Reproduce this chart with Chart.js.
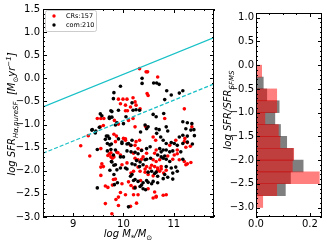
<!DOCTYPE html>
<html>
<head>
<meta charset="utf-8">
<script src="https://cdn.jsdelivr.net/npm/chart.js@4.4.1/dist/chart.umd.min.js"></script>
<style>
  html, body { margin: 0; padding: 0; background: #fff; }
  #wrap { position: relative; width: 327px; height: 243px; }
  canvas { position: absolute; top: 0; }
  #main { left: 0; }
  #hist { left: 218px; }
</style>
</head>
<body>
<div id="wrap">
  <canvas id="main" width="218" height="243"></canvas>
  <canvas id="hist" width="109" height="243"></canvas>
</div>
<script>
// scatter: [log M*, log SFR]
const crsPoints = [
  [10.32,0.21],[10.45,0.14],[10.48,0.14],[10.68,0.03],[10.47,-0.33],
  [9.90,-0.45],[9.99,-0.45],[10.07,-0.45],[10.19,-0.42],[9.94,-0.55],[10.04,-0.58],[10.14,-0.62],[10.04,-0.70],[10.08,-0.70],
  [9.48,-0.87],[9.55,-0.87],[9.61,-0.87],[9.82,-0.91],[9.90,-0.99],[10.10,-0.91],[10.19,-0.87],
  [9.30,-1.24],[9.54,-1.05],[9.60,-1.02],[9.81,-1.21],[9.86,-1.25],[9.84,-1.37],[10.00,-1.30],[10.04,-1.34],
  [9.15,-1.46],[9.55,-1.52],[9.75,-1.61],[9.89,-1.61],[9.94,-1.66],[9.33,-1.68],[10.20,-1.62],[9.69,-1.67],[9.75,-1.70],
  [9.57,-1.85],[9.55,-1.92],[9.60,-1.91],[9.55,-2.10],[9.64,-2.33],[9.69,-2.36],[9.78,-2.31],[9.64,-2.71],[9.77,-2.93],
  [9.78,-1.73],[9.97,-1.87],[10.07,-1.83],[10.15,-2.05],[10.20,-2.01],[9.80,-2.19],[9.84,-2.18],[9.97,-2.28],[10.15,-2.32],
  [10.20,-2.37],[9.94,-2.47],[10.04,-2.52],[9.90,-2.57],[9.85,-2.62],[10.14,-2.77],
  [10.49,-0.37],[10.23,-0.51],[10.25,-0.58],[10.33,-0.66],[11.21,-0.66],[10.82,-0.87],[10.23,-1.05],[10.44,-1.04],[11.36,-1.05],
  [10.25,-1.37],[10.32,-1.34],[10.59,-1.27],[10.64,-1.34],[11.04,-1.34],[11.22,-1.30],[10.92,-1.45],[11.21,-1.37],[11.27,-1.39],
  [10.29,-1.52],[10.36,-1.55],[10.65,-1.55],[10.62,-1.62],[11.07,-1.55],[10.46,-1.62],[10.39,-1.70],[10.88,-1.68],[11.01,-1.66],
  [10.23,-1.73],[10.29,-1.76],[10.36,-1.75],[10.59,-1.76],[10.65,-1.80],[10.72,-1.76],[10.98,-1.75],[11.11,-1.76],[11.21,-1.80],
  [11.34,-1.82],[11.24,-1.87],
  [10.46,-1.91],[10.53,-1.94],[10.62,-1.91],[10.68,-1.94],[10.75,-1.91],[10.33,-2.01],[10.43,-2.03],[10.72,-2.01],[10.80,-2.05],
  [10.85,-1.99],[10.49,-2.08],[10.59,-2.11],[10.34,-2.21],
  [10.20,-2.52],[10.59,-2.59],[10.65,-2.55],[10.85,-2.52],[10.26,-2.70],
  [11.24,-1.49],[11.33,-1.47],[11.27,-1.85],[11.07,-1.63],[9.90,-2.75],[10.23,-2.35],[10.10,-2.24],[10.29,-2.52],
  [10.04,-1.31],[10.14,-1.45],[10.23,-1.45],[9.72,-1.63],[9.81,-1.70],[9.87,-1.60],[10.29,-1.92],[10.43,-1.96],[10.56,-1.88],
  [10.68,-1.99],[10.75,-1.96],[10.49,-2.39],[10.62,-2.46],[10.65,-2.57],[10.79,-2.53]
];
const comPoints = [
  [10.37,0.00],[10.37,-0.11],[10.60,-0.10],[10.66,-0.10],[10.71,-0.13],[10.86,-0.27],[10.95,-0.36],[11.11,-0.32],[11.18,-0.27],
  [9.94,-0.17],[9.81,-0.31],
  [9.80,-0.44],[10.17,-0.53],[9.75,-0.70],[9.90,-0.69],[10.19,-0.69],[9.72,-0.87],[9.87,-0.96],[9.84,-1.01],[10.00,-0.98],
  [10.05,-0.83],[9.37,-1.12],[9.45,-1.14],[9.66,-1.25],[9.72,-1.30],[9.68,-1.41],[9.76,-1.42],[9.97,-1.41],[10.10,-1.41],
  [10.15,-1.45],[9.68,-1.57],[9.84,-1.55],[10.07,-1.57],[10.15,-1.59],[9.80,-1.66],[9.94,-1.70],[10.00,-1.70],
  [9.54,-0.77],[9.57,-0.81],[9.72,-0.84],[9.77,-0.84],[9.77,-0.72],[9.52,-1.06],[9.38,-1.11],[9.44,-1.18],[9.69,-1.25],
  [9.64,-1.32],[9.73,-1.44],[9.48,-1.54],[9.75,-1.54],[9.77,-1.81],[9.81,-1.88],[9.73,-1.99],[9.48,-2.37],
  [9.76,-1.80],[9.84,-1.87],[9.87,-1.98],[9.94,-1.94],[10.04,-1.94],[9.81,-2.08],[10.17,-2.08],[9.88,-2.26],[9.82,-2.30],
  [10.82,-0.46],[10.25,-0.68],[10.32,-0.69],[10.59,-0.78],[10.65,-0.83],[10.80,-0.76],[10.43,-1.01],[10.46,-1.09],[10.49,-1.05],
  [10.34,-1.16],[10.65,-1.09],[10.71,-1.11],[10.66,-1.19],[10.85,-1.05],[10.88,-1.14],[11.18,-0.94],[11.27,-0.96],[11.36,-0.98],
  [11.24,-1.09],[11.34,-1.12],[11.40,-1.11],[10.74,-1.27],[10.79,-1.34],[11.11,-1.27],[11.18,-1.23],[11.27,-1.25],[10.85,-1.41],
  [10.95,-1.39],[11.01,-1.41],[11.07,-1.45],[11.18,-1.41],[10.46,-1.52],[10.53,-1.48],[10.72,-1.52],[10.75,-1.59],[10.79,-1.55],
  [10.85,-1.55],[10.92,-1.59],[10.98,-1.57],[11.14,-1.59],[10.68,-1.66],[10.75,-1.70],[10.82,-1.68],
  [10.46,-1.75],[10.54,-1.73],[10.79,-1.73],[10.85,-1.75],[10.92,-1.80],[11.18,-1.75],[10.23,-1.87],[10.32,-1.91],[10.39,-1.87],
  [10.85,-1.91],[10.95,-1.94],[11.04,-1.92],[10.56,-2.01],[10.65,-2.03],[10.98,-2.05],[11.07,-2.01],[10.68,-2.12],[10.82,-2.08],
  [10.98,-2.18],[10.23,-2.19],[10.29,-2.23],[10.39,-2.26],[10.49,-2.25],[10.59,-2.23],[10.68,-2.26],[10.33,-2.34],[10.23,-2.37],
  [10.44,-2.41],
  [11.41,-1.24],[11.27,-1.38],[11.37,-1.42],[10.10,-2.78],[10.36,-2.31],[10.39,-2.39],[10.20,-2.21],[10.14,-2.12],[10.26,-1.78],
  [10.33,-1.81],[10.43,-1.76],[9.90,-1.31],[9.97,-1.38],[10.07,-1.42],[10.17,-1.34],[10.23,-1.60],[10.29,-1.63],[10.36,-1.56],
  [10.17,-1.85],[10.07,-1.96],[10.49,-2.03],[10.62,-2.06],[10.79,-2.17],[10.88,-2.14],[10.46,-2.21],[10.56,-2.28]
];

// main sequence line and the line 1 dex below it
const msLineX = [8.4, 11.8];
const msLineY = [-0.62, 0.88];
const msLowY = [-1.62, -0.12];

// histogram of log SFR/SFR_SFMS (bin centres, normalised weights)
const histBins = [-0.125, -0.375, -0.625, -0.875, -1.125, -1.375, -1.625, -1.875, -2.125, -2.375, -2.625, -2.875];
const histCRs  = [0.021, 0, 0.077, 0.077, 0.033, 0.083, 0.089, 0.140, 0.135, 0.235, 0.077, 0.025];
const histCom  = [0, 0.027, 0.040, 0.086, 0.070, 0.091, 0.114, 0.138, 0.175, 0.128, 0.109, 0];

const mainXTicks = [9, 10, 11];
const mainYTicks = [1.5, 1.0, 0.5, 0.0, -0.5, -1.0, -1.5, -2.0, -2.5, -3.0];
const histXTicks = [0.0, 0.2];
const histYTicks = [1.0, 0.5, 0.0, -0.5, -1.0, -1.5, -2.0, -2.5, -3.0];

const FONT = '"DejaVu Sans", sans-serif';
Chart.defaults.font.family = FONT;
Chart.defaults.color = '#000';

const minus = s => s.replace('-', '\u2212');
const fixTicks = arr => s => { s.ticks = arr.map(v => ({ value: v })); };

// frame + inward major/minor ticks on all four sides
const frameTicks = {
  id: 'frameTicks',
  afterDraw(chart, args, o) {
    const { ctx, chartArea: a } = chart;
    const xs = chart.scales.x, ys = chart.scales.y;
    ctx.save();
    ctx.strokeStyle = '#000';
    ctx.lineWidth = 1;
    ctx.strokeRect(a.left + 0.5, a.top + 0.5, a.right - a.left - 1, a.bottom - a.top - 1);
    const xt = (v, len) => {
      const p = Math.round(xs.getPixelForValue(v)) + 0.5;
      ctx.moveTo(p, a.bottom); ctx.lineTo(p, a.bottom - len);
      ctx.moveTo(p, a.top); ctx.lineTo(p, a.top + len);
    };
    const yt = (v, len) => {
      const p = Math.round(ys.getPixelForValue(v)) + 0.5;
      ctx.moveTo(a.left, p); ctx.lineTo(a.left + len, p);
      ctx.moveTo(a.right, p); ctx.lineTo(a.right - len, p);
    };
    ctx.beginPath();
    for (let k = Math.ceil(xs.min / o.xMinor - 1e-6); k * o.xMinor <= xs.max + 1e-9; k++) xt(k * o.xMinor, 2);
    for (let k = Math.ceil(ys.min / o.yMinor - 1e-6); k * o.yMinor <= ys.max + 1e-9; k++) yt(k * o.yMinor, 2);
    o.xMajor.forEach(v => xt(v, 4));
    o.yMajor.forEach(v => yt(v, 4));
    ctx.stroke();
    ctx.restore();
  }
};

function drawRich(ctx, parts, cx, cy, rot) {
  const f = p => 'italic ' + p.s + 'px ' + FONT;
  ctx.save();
  ctx.translate(cx, cy);
  if (rot) ctx.rotate(-Math.PI / 2);
  let w = 0;
  parts.forEach(p => { ctx.font = f(p); p.w = ctx.measureText(p.t).width; w += p.w; });
  let x = -w / 2;
  ctx.fillStyle = '#000';
  ctx.textBaseline = 'alphabetic';
  parts.forEach(p => { ctx.font = f(p); ctx.fillText(p.t, x, p.dy || 0); x += p.w; });
  ctx.restore();
}

const mainAnnot = {
  id: 'mainAnnot',
  afterDraw(chart) {
    const ctx = chart.ctx;
    drawRich(ctx, [
      { t: 'log SFR', s: 10 }, { t: 'H\u03b1,pureSF', s: 7, dy: 2.5 },
      { t: '  [M', s: 10 }, { t: '\u2299', s: 7, dy: 2.5 }, { t: 'yr', s: 10 },
      { t: '\u22121', s: 7, dy: -4 }, { t: ']', s: 10 }
    ], 15, 114, true);
    drawRich(ctx, [
      { t: 'log M', s: 10 }, { t: '*', s: 7, dy: 2.5 }, { t: '/M', s: 10 }, { t: '\u2299', s: 7, dy: 2.5 }
    ], 128, 237, false);
    // legend
    ctx.save();
    ctx.fillStyle = '#fff';
    ctx.strokeStyle = '#ccc';
    ctx.lineWidth = 1;
    ctx.beginPath();
    ctx.roundRect(45.5, 10.5, 51, 21, 2);
    ctx.fill(); ctx.stroke();
    ctx.font = '6.5px ' + FONT;
    ctx.textBaseline = 'middle';
    [['#ff0000', 'CRs:157', 16], ['#000000', 'com:210', 25]].forEach(([c, t, y]) => {
      ctx.fillStyle = c;
      ctx.beginPath(); ctx.arc(54, y, 1.7, 0, Math.PI * 2); ctx.fill();
      ctx.fillStyle = '#000';
      ctx.fillText(t, 66, y);
    });
    ctx.restore();
  }
};

const histAnnot = {
  id: 'histAnnot',
  afterDraw(chart) {
    drawRich(chart.ctx, [{ t: 'log SFR/SFR', s: 10 }, { t: 'SFMS', s: 7, dy: 2.5 }], 13, 110, true);
  }
};

new Chart(document.getElementById('main'), {
  type: 'scatter',
  data: {
    datasets: [
      { label: 'CRs:157', data: crsPoints.map(p => ({ x: p[0], y: p[1] })), backgroundColor: '#ff0000',
        pointRadius: 1.8, pointBorderWidth: 0, order: 3 },
      { label: 'com:210', data: comPoints.map(p => ({ x: p[0], y: p[1] })), backgroundColor: '#000000',
        pointRadius: 1.8, pointBorderWidth: 0, order: 2 },
      { type: 'line', data: msLineX.map((x, i) => ({ x, y: msLineY[i] })), borderColor: '#17c0c6',
        borderWidth: 1.2, pointRadius: 0, showLine: true, order: 1 },
      { type: 'line', data: msLineX.map((x, i) => ({ x, y: msLowY[i] })), borderColor: '#17c0c6',
        borderWidth: 1.2, borderDash: [4, 2], pointRadius: 0, showLine: true, order: 1 }
    ]
  },
  options: {
    responsive: false,
    animation: false,
    layout: { padding: { top: 8, right: 2, left: 0, bottom: 0 } },
    plugins: {
      legend: { display: false }, tooltip: { enabled: false },
      frameTicks: { xMinor: 0.2, yMinor: 0.1, xMajor: mainXTicks, yMajor: mainYTicks }
    },
    scales: {
      x: {
        type: 'linear', min: 8.4, max: 11.8,
        grid: { display: false, drawTicks: false }, border: { display: false },
        afterBuildTicks: fixTicks(mainXTicks), afterFit: s => { s.height = 26; },
        ticks: { padding: 1, autoSkip: false, maxRotation: 0, font: { size: 10 }, callback: v => String(v) }
      },
      y: {
        type: 'linear', min: -3.0, max: 1.5,
        grid: { display: false, drawTicks: false }, border: { display: false },
        afterBuildTicks: fixTicks(mainYTicks), afterFit: s => { s.width = 43; },
        ticks: { padding: 3, autoSkip: false, font: { size: 10 }, callback: v => minus(v.toFixed(1)) }
      }
    }
  },
  plugins: [frameTicks, mainAnnot]
});

new Chart(document.getElementById('hist'), {
  type: 'bar',
  data: {
    datasets: [
      { label: 'CRs', data: histBins.map((b, i) => ({ x: histCRs[i], y: b })), backgroundColor: 'rgba(255,0,0,0.5)' },
      { label: 'com', data: histBins.map((b, i) => ({ x: histCom[i], y: b })), backgroundColor: 'rgba(0,0,0,0.5)' }
    ]
  },
  options: {
    indexAxis: 'y',
    responsive: false,
    animation: false,
    grouped: false,
    barPercentage: 1,
    categoryPercentage: 1,
    layout: { padding: { top: 13, right: 5, left: 0, bottom: 0 } },
    plugins: {
      legend: { display: false }, tooltip: { enabled: false },
      frameTicks: { xMinor: 0.05, yMinor: 0.1, xMajor: histXTicks, yMajor: histYTicks }
    },
    scales: {
      x: {
        type: 'linear', min: 0, max: 0.245, offset: false,
        grid: { display: false, drawTicks: false }, border: { display: false },
        afterBuildTicks: fixTicks(histXTicks), afterFit: s => { s.height = 26; },
        ticks: { padding: 1, autoSkip: false, maxRotation: 0, font: { size: 10 }, callback: v => v.toFixed(1) }
      },
      y: {
        type: 'linear', min: -3.2, max: 1.1, offset: false,
        grid: { display: false, drawTicks: false }, border: { display: false },
        afterBuildTicks: fixTicks(histYTicks), afterFit: s => { s.width = 38; },
        ticks: { padding: 2, autoSkip: false, font: { size: 10 }, callback: v => minus(v.toFixed(1)) }
      }
    }
  },
  plugins: [frameTicks, histAnnot]
});
</script>
</body>
</html>
